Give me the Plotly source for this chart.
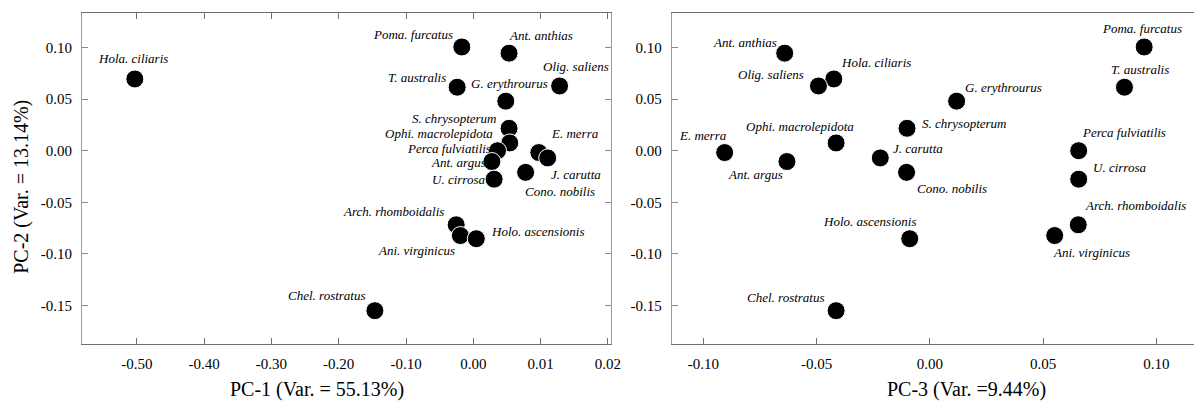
import plotly.graph_objects as go

# ---------------- data ----------------
species = [
    "Hola. ciliaris", "Poma. furcatus", "Ant. anthias", "T. australis", "Olig. saliens",
    "G. erythrourus", "S. chrysopterum", "Ophi. macrolepidota", "Perca fulviatilis",
    "Ant. argus", "U. cirrosa", "E. merra", "J. carutta", "Cono. nobilis",
    "Arch. rhomboidalis", "Ani. virginicus", "Holo. ascensionis", "Chel. rostratus",
]
# PC-1 in the (linear) units of the left axis, whose tick labels are printed as shown
pc1 = [-0.503, -0.0171, 0.0531, -0.0240, 0.1282,
       0.0482, 0.0531, 0.0541, 0.0360,
       0.0276, 0.0309, 0.0973, 0.1105, 0.0777,
       -0.0255, -0.0193, 0.0044, -0.1463]
pc2 = [0.0695, 0.1005, 0.0945, 0.0615, 0.0627,
       0.0480, 0.0217, 0.0075, 0.0000,
       -0.0105, -0.0276, -0.0018, -0.0070, -0.0210,
       -0.0718, -0.0822, -0.0853, -0.1550]
pc3 = [-0.0424, 0.0946, -0.0641, 0.0859, -0.0492,
       0.0118, -0.0101, -0.0414, 0.0657,
       -0.0631, 0.0657, -0.0906, -0.0219, -0.0103,
       0.0655, 0.0551, -0.0089, -0.0414]

pc1_tickvals = [-0.5, -0.4, -0.3, -0.2, -0.1, 0.0, 0.1, 0.2]
pc1_ticktext = ["-0.50", "-0.40", "-0.30", "-0.20", "-0.10", "0.00", "0.01", "0.02"]
pc2_tickvals = [0.10, 0.05, 0.00, -0.05, -0.10, -0.15]
pc2_ticktext = ["0.10", "0.05", "0.00", "-0.05", "-0.10", "-0.15"]
pc3_tickvals = [-0.10, -0.05, 0.00, 0.05, 0.10]
pc3_ticktext = ["-0.10", "-0.05", "0.00", "0.05", "0.10"]

x1_title = "PC-1 (Var. = 55.13%)"
y1_title = "PC-2 (Var. = 13.14%)"
x2_title = "PC-3 (Var. =9.44%)"

# ---------------- label placement (layout only) ----------------
# (xanchor, dx px, dy px screen-down)
left_lab = {
    "Hola. ciliaris": ("center", -2, -20), "Poma. furcatus": ("right", -7, -12),
    "Ant. anthias": ("left", -2, -18), "T. australis": ("right", -9, -10),
    "Olig. saliens": ("center", 16, -19), "G. erythrourus": ("center", 4, -18),
    "S. chrysopterum": ("right", -10, -10), "Ophi. macrolepidota": ("right", -15, -9),
    "Perca fulviatilis": ("right", -5, -2), "Ant. argus": ("right", -4, 1),
    "U. cirrosa": ("right", -7, 0), "E. merra": ("left", 10, -19),
    "J. carutta": ("left", 1, 17), "Cono. nobilis": ("left", -3, 19),
    "Arch. rhomboidalis": ("right", -10, -13), "Ani. virginicus": ("right", -3, 15),
    "Holo. ascensionis": ("left", 13, -7), "Chel. rostratus": ("right", -7, -15),
}
right_lab = {
    "Ant. anthias": ("right", -6, -11), "Hola. ciliaris": ("left", 5, -16),
    "Olig. saliens": ("right", -12, -11), "G. erythrourus": ("left", 6, -14),
    "E. merra": ("right", 4, -17), "Ophi. macrolepidota": ("right", 20, -16),
    "S. chrysopterum": ("left", 13, -5), "J. carutta": ("left", 11, -9),
    "Ant. argus": ("right", -2, 13), "Cono. nobilis": ("left", 8, 16),
    "Poma. furcatus": ("center", -2, -18), "T. australis": ("center", 16, -18),
    "Perca fulviatilis": ("left", 1, -18), "U. cirrosa": ("left", 12, -12),
    "Holo. ascensionis": ("right", 8, -17), "Chel. rostratus": ("right", -9, -13),
    "Arch. rhomboidalis": ("left", 5, -19), "Ani. virginicus": ("left", -4, 17),
}

W, H = 1204, 405
serif = "Liberation Serif, Times New Roman, serif"
marker = dict(size=18, color="black", line=dict(color="white", width=1))

fig = go.Figure()
fig.add_trace(go.Scatter(x=pc1, y=pc2, mode="markers", marker=marker,
                         xaxis="x", yaxis="y", showlegend=False, hoverinfo="text", text=species))
fig.add_trace(go.Scatter(x=pc3, y=pc2, mode="markers", marker=marker,
                         xaxis="x2", yaxis="y2", showlegend=False, hoverinfo="text", text=species))

ann = []
lab_font = dict(family=serif, size=13, color="black", style="italic")
for name, xv, yv in zip(species, pc1, pc2):
    a, dx, dy = left_lab[name]
    ann.append(dict(x=xv, y=yv, xref="x", yref="y", text=name, showarrow=False,
                    xanchor=a, yanchor="middle", xshift=dx, yshift=-dy, font=lab_font))
for name, xv, yv in zip(species, pc3, pc2):
    a, dx, dy = right_lab[name]
    ann.append(dict(x=xv, y=yv, xref="x2", yref="y2", text=name, showarrow=False,
                    xanchor=a, yanchor="middle", xshift=dx, yshift=-dy, font=lab_font))

title_font = dict(family=serif, size=20, color="black")
ann.append(dict(x=320 / W, y=1 - 389 / H, xref="paper", yref="paper", text=x1_title,
                showarrow=False, xanchor="center", yanchor="middle", font=title_font))
ann.append(dict(x=975 / W, y=1 - 389 / H, xref="paper", yref="paper", text=x2_title,
                showarrow=False, xanchor="center", yanchor="middle", font=title_font))
ann.append(dict(x=22 / W, y=1 - 187 / H, xref="paper", yref="paper", text=y1_title,
                showarrow=False, xanchor="center", yanchor="middle", textangle=-90, font=title_font))

tick_font = dict(family=serif, size=15, color="black")
common = dict(showgrid=False, zeroline=False, showline=True, ticks="inside", ticklen=6,
              tickwidth=1, tickfont=tick_font, ticklabelstandoff=6)

y_dom = [1 - 344 / H, 1 - 12.7 / H]
y_rng = [-0.1873, 0.1337]

fig.update_layout(
    width=W, height=H,
    margin=dict(l=0, r=0, t=0, b=0),
    font=dict(family=serif, color="black"),
    paper_bgcolor="white", plot_bgcolor="white",
    xaxis=dict(domain=[82.7 / W, 616 / W], range=[-0.5815, 0.2044],
               tickvals=pc1_tickvals, ticktext=pc1_ticktext, anchor="y",
               linecolor="#707070", tickcolor="#707070", mirror="ticks", **common),
    yaxis=dict(domain=y_dom, range=y_rng, tickvals=pc2_tickvals, ticktext=pc2_ticktext,
               anchor="x", linecolor="#9a9a9a", tickcolor="#8a8a8a", mirror="ticks", **common),
    xaxis2=dict(domain=[677.3 / W, 1.0], range=[-0.1140, 0.1166],
                tickvals=pc3_tickvals, ticktext=pc3_ticktext, anchor="y2",
                linecolor="#707070", tickcolor="#707070", mirror=True, **common),
    yaxis2=dict(domain=y_dom, range=y_rng, tickvals=pc2_tickvals, ticktext=pc2_ticktext,
                anchor="x2", linecolor="#9a9a9a", tickcolor="#8a8a8a", mirror=False, **common),
    annotations=ann,
)

fig.write_html("out.html")
